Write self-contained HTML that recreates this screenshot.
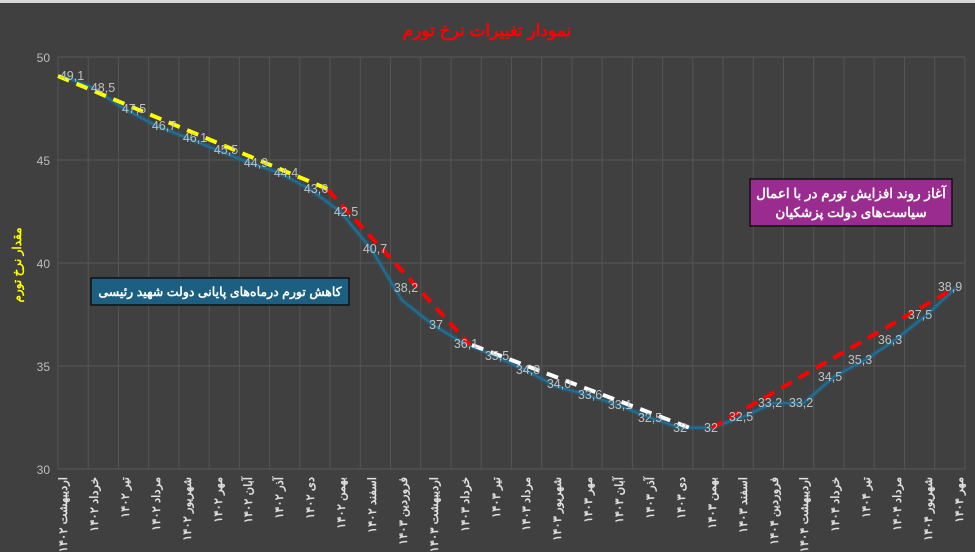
<!DOCTYPE html>
<html><head><meta charset="utf-8"><style>
body{margin:0;background:#404040;}
svg{display:block;}
text{font-family:"Liberation Sans","Noto Sans CJK SC",sans-serif;}
</style></head><body>
<svg width="975" height="552" viewBox="0 0 975 552" xmlns="http://www.w3.org/2000/svg">
<rect width="975" height="552" fill="#404040"/>
<rect width="975" height="3" fill="#d8d8d8"/>
<g stroke="#585858" stroke-width="1">
<line x1="58" y1="57" x2="965" y2="57"/><line x1="58" y1="160" x2="965" y2="160"/><line x1="58" y1="263" x2="965" y2="263"/><line x1="58" y1="366" x2="965" y2="366"/><line x1="58" y1="469" x2="965" y2="469"/>
</g>
<g id="vg" stroke="#555" stroke-width="1"></g>
<g fill="#bdbdbd" font-size="12" text-anchor="end">
<text x="50" y="62">50</text><text x="50" y="165">45</text><text x="50" y="268">40</text><text x="50" y="371">35</text><text x="50" y="474">30</text>
</g>
<text x="487" y="36" fill="#ff0000" font-size="17" font-weight="bold" text-anchor="middle" direction="rtl">نمودار تغییرات نرخ تورم</text>
<text transform="translate(21,265) rotate(-90)" fill="#ffff00" font-size="12" font-weight="bold" text-anchor="middle" direction="rtl">مقدار نرخ تورم</text>
<polyline fill="none" stroke="#1c6f96" stroke-width="5" stroke-opacity="0.35" points="62,75.5 92.9,87.9 123.8,108.5 154.7,125 185.6,137.3 216.5,149.7 247.4,162.1 278.3,172.4 309.2,188.8 340.1,211.5 371,248.6 401.9,300.1 432.8,324.8 463.7,343.3 494.6,355.7 525.5,370.1 556.4,386.6 587.3,394.8 618.2,405.1 649.1,417.5 680,427.8 710.9,427.8 741.8,417.5 772.7,403.1 803.6,403.1 834.5,376.3 865.4,359.8 896.3,339.2 927.2,314.5 958.1,285.7"/>
<polyline fill="none" stroke="#1e7099" stroke-width="2" points="62,75.5 92.9,87.9 123.8,108.5 154.7,125 185.6,137.3 216.5,149.7 247.4,162.1 278.3,172.4 309.2,188.8 340.1,211.5 371,248.6 401.9,300.1 432.8,324.8 463.7,343.3 494.6,355.7 525.5,370.1 556.4,386.6 587.3,394.8 618.2,405.1 649.1,417.5 680,427.8 710.9,427.8 741.8,417.5 772.7,403.1 803.6,403.1 834.5,376.3 865.4,359.8 896.3,339.2 927.2,314.5 958.1,285.7"/>
<g stroke-width="4" stroke-dasharray="12,8" fill="none">
<line x1="58" y1="76" x2="330" y2="190" stroke="#ffff00"/>
<line x1="328" y1="190" x2="470" y2="345" stroke="#ff0000"/>
<line x1="472" y1="345" x2="690" y2="428" stroke="#ffffff"/>
<line x1="712" y1="428" x2="955" y2="288" stroke="#ff0000"/>
</g>
<g fill="#c0c0c0" font-size="12.5" text-anchor="middle">
<text x="72" y="80">49,1</text><text x="103" y="92">48,5</text><text x="134" y="113">47,5</text><text x="164" y="130">46,7</text><text x="195" y="142">46,1</text><text x="226" y="154">45,5</text><text x="256" y="167">44,9</text><text x="286" y="177">44,4</text><text x="316" y="193">43,6</text><text x="346" y="216">42,5</text><text x="375" y="253">40,7</text><text x="406" y="292">38,2</text><text x="436" y="329">37</text><text x="466" y="348">36,1</text><text x="497" y="360">35,5</text><text x="528" y="374">34,8</text><text x="559" y="388">34,0</text><text x="590" y="399">33,6</text><text x="620" y="409">33,1</text><text x="650" y="422">32,5</text><text x="680" y="432">32</text><text x="711" y="432">32</text><text x="741" y="421">32,5</text><text x="770" y="407">33,2</text><text x="801" y="407">33,2</text><text x="830" y="381">34,5</text><text x="860" y="364">35,3</text><text x="890" y="344">36,3</text><text x="920" y="319">37,5</text><text x="950" y="291">38,9</text>
</g>
<g fill="#e0e0e0" font-size="11.5" font-weight="bold" direction="rtl" text-anchor="start">
<text transform="translate(67,477) rotate(-90)">اردیبهشت ۱۴۰۲</text>
<text transform="translate(98,477) rotate(-90)">خرداد ۱۴۰۲</text>
<text transform="translate(129,477) rotate(-90)">تیر ۱۴۰۲</text>
<text transform="translate(160,477) rotate(-90)">مرداد ۱۴۰۲</text>
<text transform="translate(191,477) rotate(-90)">شهریور ۱۴۰۲</text>
<text transform="translate(222,477) rotate(-90)">مهر ۱۴۰۲</text>
<text transform="translate(252,477) rotate(-90)">آبان ۱۴۰۲</text>
<text transform="translate(283,477) rotate(-90)">آذر ۱۴۰۲</text>
<text transform="translate(314,477) rotate(-90)">دی ۱۴۰۲</text>
<text transform="translate(345,477) rotate(-90)">بهمن ۱۴۰۲</text>
<text transform="translate(376,477) rotate(-90)">اسفند ۱۴۰۲</text>
<text transform="translate(407,477) rotate(-90)">فروردین ۱۴۰۳</text>
<text transform="translate(438,477) rotate(-90)">اردیبهشت ۱۴۰۳</text>
<text transform="translate(469,477) rotate(-90)">خرداد ۱۴۰۳</text>
<text transform="translate(500,477) rotate(-90)">تیر ۱۴۰۳</text>
<text transform="translate(530,477) rotate(-90)">مرداد ۱۴۰۳</text>
<text transform="translate(561,477) rotate(-90)">شهریور ۱۴۰۳</text>
<text transform="translate(592,477) rotate(-90)">مهر ۱۴۰۳</text>
<text transform="translate(623,477) rotate(-90)">آبان ۱۴۰۳</text>
<text transform="translate(654,477) rotate(-90)">آذر ۱۴۰۳</text>
<text transform="translate(685,477) rotate(-90)">دی ۱۴۰۳</text>
<text transform="translate(716,477) rotate(-90)">بهمن ۱۴۰۳</text>
<text transform="translate(747,477) rotate(-90)">اسفند ۱۴۰۳</text>
<text transform="translate(778,477) rotate(-90)">فروردین ۱۴۰۴</text>
<text transform="translate(808,477) rotate(-90)">اردیبهشت ۱۴۰۴</text>
<text transform="translate(839,477) rotate(-90)">خرداد ۱۴۰۴</text>
<text transform="translate(870,477) rotate(-90)">تیر ۱۴۰۴</text>
<text transform="translate(901,477) rotate(-90)">مرداد ۱۴۰۴</text>
<text transform="translate(932,477) rotate(-90)">شهریور ۱۴۰۴</text>
<text transform="translate(963,477) rotate(-90)">مهر ۱۴۰۴</text>
</g>
<rect x="91" y="278" width="258" height="27" fill="#1d5f80" stroke="#111" stroke-width="1.5"/>
<text x="220" y="296" fill="#ffffff" font-size="12.5" font-weight="bold" text-anchor="middle" direction="rtl">کاهش تورم درماه‌های پایانی دولت شهید رئیسی</text>
<rect x="750" y="179" width="202" height="47" fill="#9b2c8f" stroke="#111" stroke-width="1.5"/>
<text x="851" y="198" fill="#ffffff" font-size="13.5" font-weight="bold" text-anchor="middle" direction="rtl">آغاز روند افزایش تورم در با اعمال</text>
<text x="851" y="217" fill="#ffffff" font-size="13.5" font-weight="bold" text-anchor="middle" direction="rtl">سیاست‌های دولت پزشکیان</text>
</svg>
<script>
var g=document.getElementById('vg');
for(var k=0;k<=30;k++){var x=58+k*30.23;var l=document.createElementNS('http://www.w3.org/2000/svg','line');l.setAttribute('x1',x);l.setAttribute('x2',x);l.setAttribute('y1',57);l.setAttribute('y2',469);g.appendChild(l);}
</script>
</body></html>
